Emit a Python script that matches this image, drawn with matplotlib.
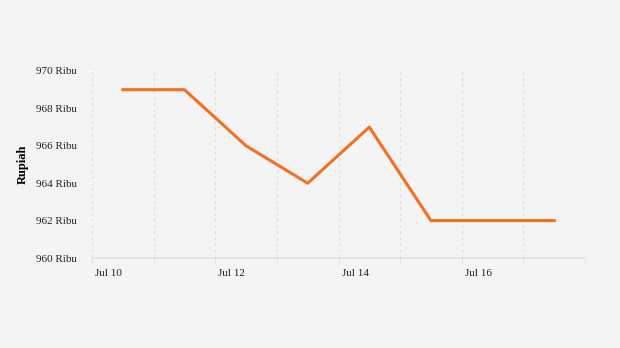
import matplotlib
matplotlib.use("Agg")
import matplotlib.pyplot as plt
import matplotlib.dates as mdates
import matplotlib.transforms as mtrans
import pandas as pd

# data harga (ribu rupiah)
dates = pd.to_datetime(["2023-07-10 12:00", "2023-07-11 12:00", "2023-07-12 12:00",
                        "2023-07-13 12:00", "2023-07-14 12:00", "2023-07-15 12:00",
                        "2023-07-16 12:00", "2023-07-17 12:00"])
prices = [969, 969, 966, 964, 967, 962, 962, 962]
y_ticks = [960, 962, 964, 966, 968, 970]
y_labels = [f"{v} Ribu" for v in y_ticks]

plt.rcParams['font.family'] = ['Liberation Serif', 'DejaVu Serif']

fig = plt.figure(figsize=(6.2, 3.48), dpi=100, facecolor="#f4f4f4")
ax = fig.add_axes([92/620, 1-258/348, (585-92)/620, (258-71)/348])
ax.set_facecolor("#f4f4f4")

ax.plot(dates, prices, color="#f37021", lw=2.2)

ax.set_xlim(pd.Timestamp("2023-07-10"), pd.Timestamp("2023-07-18"))
ax.set_ylim(960, 970)
ax.set_yticks(y_ticks)
ax.set_yticklabels(y_labels, fontsize=8)

ax.xaxis.set_major_locator(mdates.DayLocator(bymonthday=[10, 12, 14, 16]))
ax.xaxis.set_minor_locator(mdates.DayLocator())
ax.xaxis.set_major_formatter(mdates.DateFormatter("%b %d"))

ax.grid(True, which="both", axis="x", color="#dddddd", ls=(0, (2.5, 3)), lw=0.8)
ax.tick_params(axis="x", which="both", length=4, color="#e0e0e0", pad=4, labelcolor="#222222")
ax.tick_params(axis="y", length=4, color="#ffffff", pad=7, labelcolor="#222222")

for s in ["top", "right", "left"]:
    ax.spines[s].set_visible(False)
ax.spines["bottom"].set_color("#e0e0e0")
ax.spines["bottom"].set_linewidth(1.2)

ax.set_ylabel("Rupiah", fontsize=9, fontweight="bold", labelpad=5)

# label tanggal rata kiri, sedikit geser ke kanan
fig.canvas.draw()
shift = mtrans.ScaledTranslation(3/100, 0, fig.dpi_scale_trans)
for t in ax.xaxis.get_major_ticks():
    t.label1.set_fontsize(8)
    t.label1.set_horizontalalignment("left")
    t.label1.set_transform(t.label1.get_transform() + shift)

fig.savefig("out.png", dpi=100, facecolor=fig.get_facecolor())
